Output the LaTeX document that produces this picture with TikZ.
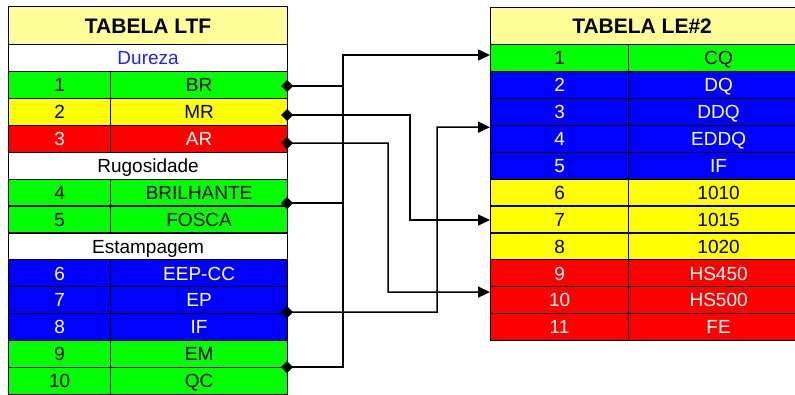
\documentclass[tikz,border=0pt]{standalone}
\usepackage{fontspec}
\setmainfont{Liberation Sans}
\usetikzlibrary{arrows.meta,calc,shapes.geometric}
\definecolor{cgreen}{HTML}{00FF00}
\definecolor{cyellow}{HTML}{FFFF00}
\definecolor{cred}{HTML}{FF0000}
\definecolor{cblue}{HTML}{0000FF}
\definecolor{ctitle}{HTML}{FFFF99}
\definecolor{cdur}{HTML}{2020FF}
\tikzset{
  cell/.style={draw=black, line width=1.2pt, anchor=north west, inner sep=0pt,
    minimum height=26.9, text height=13.6pt, text depth=0pt,
    font=\fontsize{19}{19}\selectfont},
  titlecell/.style={cell, fill=ctitle, minimum height=38, text height=15.2pt,
    font=\fontsize{21}{21}\selectfont\bfseries},
  conn/.style={draw=black, line width=1.5pt},
  arr/.style={conn, -{Triangle[length=12pt,width=11pt]}},
  dia/.style={diamond, fill=black, draw=black, line width=0.5pt, inner sep=0pt,
    minimum width=11, minimum height=11}
}
\newcommand{\LRow}[6]{%
  \node[cell, fill=#3, text=#4, minimum width=102] (#1n) at (8,#2) {#5};
  \node[cell, fill=#3, text=#4, minimum width=177] (#1t) at (110,#2) {#6};}
\newcommand{\LHead}[4]{%
  \node[cell, fill=white, text=#3, minimum width=279] (#1) at (8,#2) {#4};}
\newcommand{\RRow}[6]{%
  \node[cell, fill=#3, text=#4, minimum width=138] (#1n) at (490,#2) {#5};
  \node[cell, fill=#3, text=#4, minimum width=180] (#1t) at (628,#2) {#6};}
\begin{document}
\begin{tikzpicture}[x=1pt,y=-1pt]
\useasboundingbox (0,0) rectangle (795,394);
\clip (0,0) rectangle (795,394);
\fill[white] (0,0) rectangle (795,394);
% left table
\node[titlecell, minimum width=279] (LT) at (8,6) {TABELA LTF};
\LHead{Ldur}{44}{cdur}{Dureza}
\LRow{L1}{70.9}{cgreen}{black}{1}{BR}
\LRow{L2}{97.8}{cyellow}{black}{2}{MR}
\LRow{L3}{124.7}{cred}{white}{3}{AR}
\LHead{Lrug}{151.6}{black}{Rugosidade}
\LRow{L4}{178.5}{cgreen}{black}{4}{BRILHANTE}
\LRow{L5}{205.4}{cgreen}{black}{5}{FOSCA}
\LHead{Lest}{232.3}{black}{Estampagem}
\LRow{L6}{259.2}{cblue}{white}{6}{EEP-CC}
\LRow{L7}{286.1}{cblue}{white}{7}{EP}
\LRow{L8}{313}{cblue}{white}{8}{IF}
\LRow{L9}{339.9}{cgreen}{black}{9}{EM}
\LRow{L10}{366.8}{cgreen}{black}{10}{QC}
% right table
\node[titlecell, minimum width=318] (RT) at (490,6.5) {\hspace*{-15pt}TABELA LE\#2};
\RRow{R1}{44}{cgreen}{black}{1}{CQ}
\RRow{R2}{70.9}{cblue}{white}{2}{DQ}
\RRow{R3}{97.8}{cblue}{white}{3}{DDQ}
\RRow{R4}{124.7}{cblue}{white}{4}{EDDQ}
\RRow{R5}{151.6}{cblue}{white}{5}{IF}
\RRow{R6}{178.5}{cyellow}{black}{6}{1010}
\RRow{R7}{205.4}{cyellow}{black}{7}{1015}
\RRow{R8}{232.3}{cyellow}{black}{8}{1020}
\RRow{R9}{259.2}{cred}{white}{9}{HS450}
\RRow{R10}{286.1}{cred}{white}{10}{HS500}
\RRow{R11}{313}{cred}{white}{11}{FE}
% diamonds (connector start points)
\node[dia] (dBR) at (287,86) {};
\node[dia] (dMR) at (287,115) {};
\node[dia] (dAR) at (287,143) {};
\node[dia] (dBRIL) at (287,203) {};
\node[dia] (dIF) at (287,312) {};
\node[dia] (dEM) at (287,367) {};
% connector points
\coordinate (a1) at ($(R1n.north west)+(0,11)$);
\coordinate (a4) at ($(R4n.north west)+(0,2.5)$);
\coordinate (a7) at ($(R7n.north west)+(0,14.6)$);
\coordinate (a10) at ($(R10n.north west)+(0,6)$);
\coordinate (t1) at (343,55);
\coordinate (k2) at (410,220);
\coordinate (k3) at (388,292);
\coordinate (k8) at (437,127);
% connectors
\draw[conn] (dBRIL.center) -| (t1);
\draw[conn] (dEM.center) -| (t1);
\draw[arr] (dBR.center) -| (t1) -- (a1);
\draw[arr] (dMR.center) -| (k2) -- (a7);
\draw[arr] (dAR.center) -| (k3) -- (a10);
\draw[arr] (dIF.center) -| (k8) -- (a4);
% diamonds on top
\foreach \d in {dBR,dMR,dAR,dBRIL,dIF,dEM}
  \fill[black] (\d.north) -- (\d.east) -- (\d.south) -- (\d.west) -- cycle;
\end{tikzpicture}
\end{document}
